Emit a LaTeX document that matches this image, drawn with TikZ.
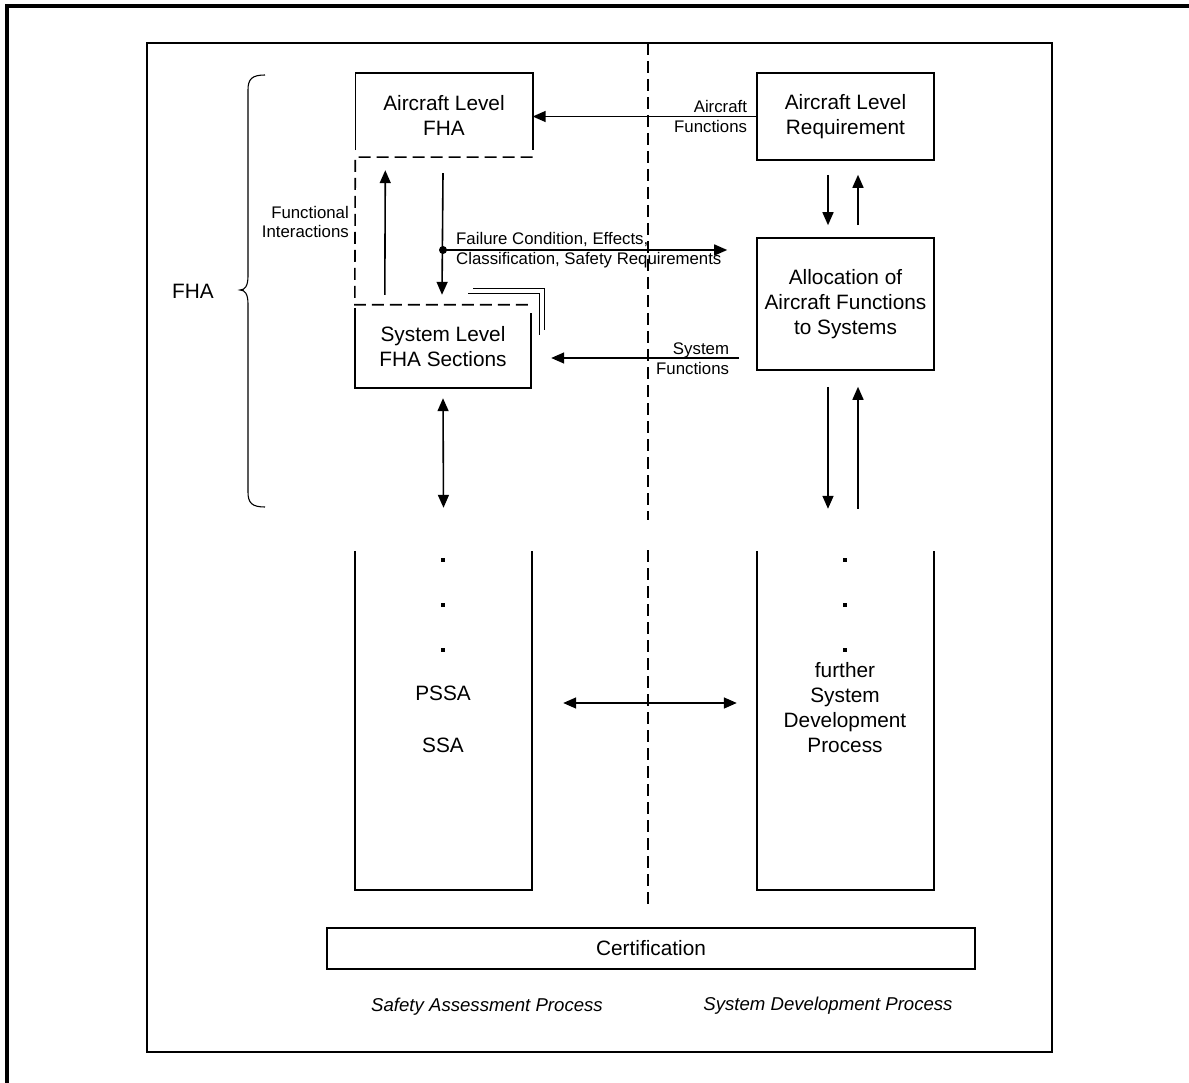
\documentclass[tikz,border=0pt]{standalone}
\usepackage{fontspec}
\setmainfont{Liberation Sans}
\usetikzlibrary{arrows.meta,calc}
\newcommand\bigtxt{\fontsize{20.8}{25}\selectfont}
\newcommand\smalltxt{\fontsize{16.8}{19.5}\selectfont}
\newcommand\captxt{\fontsize{18.6}{22}\selectfont\itshape}
\begin{document}
\begin{tikzpicture}[x=1pt,y=-1pt,
  edge/.style={line width=1.6pt},
  thinedge/.style={line width=1.2pt},
  divider/.style={line width=1.6pt, dash pattern=on 12pt off 6pt},
  box/.style={draw, line width=1.6pt, minimum width=177, align=center, font=\bigtxt, inner sep=0},
  openbox/.style={minimum width=177, align=center, font=\bigtxt, inner sep=0},
  lbl/.style={font=\smalltxt, inner sep=0},
  txt/.style={font=\bigtxt, align=center, inner sep=0},
  captionstyle/.style={font=\captxt, inner sep=0},
  dotsq/.style={fill, minimum size=4.5pt, inner sep=0},
  joint/.style={circle, fill, minimum size=8pt, inner sep=0},
  tip/.style={},
  arr/.style={line width=1.6pt, -{Triangle[length=13pt,width=11pt]}},
  darr/.style={line width=1.6pt, {Triangle[length=13pt,width=11pt]}-{Triangle[length=13pt,width=11pt]}}
]
\path[use as bounding box] (0,0) rectangle (1189,1083);

% outer and inner frames
\draw[line width=3.2pt] (7,1095) -- (7,6) -- (1200,6);
\node[draw, line width=1.8pt, minimum width=905, minimum height=1009, inner sep=0] (frame) at (599.5,547.5) {};

% centre divider between the two processes
\draw[divider] (648,43) -- (648,520);
\draw[divider] (648,550) -- (648,905);

% safety assessment side
\node[openbox, minimum height=84] (afha) at (444,115) {Aircraft Level\\FHA};
\draw[edge] ([yshift=7pt]afha.south west) -- (afha.north west) -- (afha.north east) -- ([yshift=7pt]afha.south east);

\node[openbox, minimum width=176, minimum height=83] (sfha) at (443,346.5) {System Level\\FHA Sections};
\draw[edge] ([yshift=-3pt]sfha.north west) -- (sfha.south west) -- (sfha.south east) -- ([yshift=-8pt]sfha.north east);

% dashed functional-interaction region
\draw[divider] (afha.south east) -- (afha.south west) -- (sfha.north west) -- (sfha.north east);

% stacked section outlines behind the system level box
\draw[thinedge] ([shift={(-63,-11)}]sfha.north east) -- ([shift={(8,-11)}]sfha.north east) -- ([shift={(8,30)}]sfha.north east);
\draw[thinedge] ([shift={(-58,-16)}]sfha.north east) -- ([shift={(13,-16)}]sfha.north east) -- ([shift={(13,25)}]sfha.north east);

\node[lbl, align=right, anchor=east] (fi) at (349,222) {Functional\\Interactions};

\draw[arr] ([shift={(30,-10)}]sfha.north west) -- ([shift={(30,13)}]afha.south west);
\draw[arr] ([shift={(-1,16)}]afha.south) -- ([shift={(-1,-10)}]sfha.north);

\node[joint] (fc) at (443,250) {};
\node[lbl, align=left, anchor=west] (fclbl) at (456,250) {Failure Condition, Effects,\\Classification, Safety Requirements};

% system development side
\node[box, minimum height=87] (areq) at (845.5,116.5) {Aircraft Level\\Requirement};
\node[box, minimum height=132] (alloc) at (845.5,304) {Allocation of\\Aircraft Functions\\to Systems};

\coordinate (fcTip) at ($(fc -| alloc.west)+(-29,0)$);
\draw[arr] (fc.center) -- (fcTip);

\draw[arr] (areq.west) -- (areq.west -| afha.east);
\node[lbl, align=right, anchor=east] (aflbl) at ([xshift=-9pt]areq.west) {Aircraft\\Functions};

\coordinate (sfStart) at ($(alloc.west)+(-17,54)$);
\coordinate (sfTip) at ($(sfha.east)+(20,11.5)$);
\draw[arr] (sfStart) -- (sfTip);
\node[lbl, align=right, anchor=east] (sflbl) at ($(alloc.west)+(-27,54.5)$) {System\\Functions};

\draw[arr] ([xshift=-17.5pt,yshift=-14pt]areq.south) -- ([xshift=-17.5pt,yshift=12pt]alloc.north);
\draw[arr] ([xshift=12.5pt,yshift=12pt]alloc.north) -- ([xshift=12.5pt,yshift=-14pt]areq.south);

% lower columns
\node[openbox, minimum height=339] (lcol) at (443.5,720.5) {};
\draw[edge] (lcol.north west) -- (lcol.south west) -- (lcol.south east) -- (lcol.north east);
\node[openbox, minimum height=339] (rcol) at (845.5,720.5) {};
\draw[edge] (rcol.north west) -- (rcol.south west) -- (rcol.south east) -- (rcol.north east);

\node[dotsq] (ld1) at (443,560) {};
\node[dotsq] (ld2) at (443,605) {};
\node[dotsq] (ld3) at (443,650) {};
\node[txt] (pssa) at (443,693) {PSSA};
\node[txt] (ssa) at (443,745) {SSA};

\node[dotsq] (rd1) at (845,560) {};
\node[dotsq] (rd2) at (845,605) {};
\node[dotsq] (rd3) at (845,650) {};
\node[txt] (fsdp) at (845,707.5) {further\\System\\Development\\Process};

\draw[darr] ([yshift=-10pt]sfha.south) -- ([yshift=43pt]lcol.north);
\draw[arr] ([xshift=-17.5pt,yshift=-16pt]alloc.south) -- ([xshift=-17.5pt,yshift=42pt]rcol.north);
\draw[arr] ([xshift=12.5pt,yshift=42pt]rcol.north) -- ([xshift=12.5pt,yshift=-16pt]alloc.south);
\draw[darr] ($(lcol.east)+(31,-17.5)$) -- ($(rcol.west)+(-20,-17.5)$);

% certification and process captions
\node[box, minimum width=648, minimum height=41] (cert) at (651,948.5) {Certification};
\node[captionstyle] (sap) at (487,1007) {Safety Assessment Process};
\node[captionstyle] (sdp) at (828,1006) {System Development Process};

% FHA brace
\draw[line width=1.1pt] (265,75) .. controls (252,75) and (248,79) .. (248,90) -- (248,276)
  .. controls (248,286) and (245,290) .. (240,290)
  .. controls (245,290) and (248,294) .. (248,304) -- (248,492)
  .. controls (248,503) and (252,507) .. (265,507);
\node[txt] (fha) at (193,291) {FHA};
\end{tikzpicture}
\end{document}
